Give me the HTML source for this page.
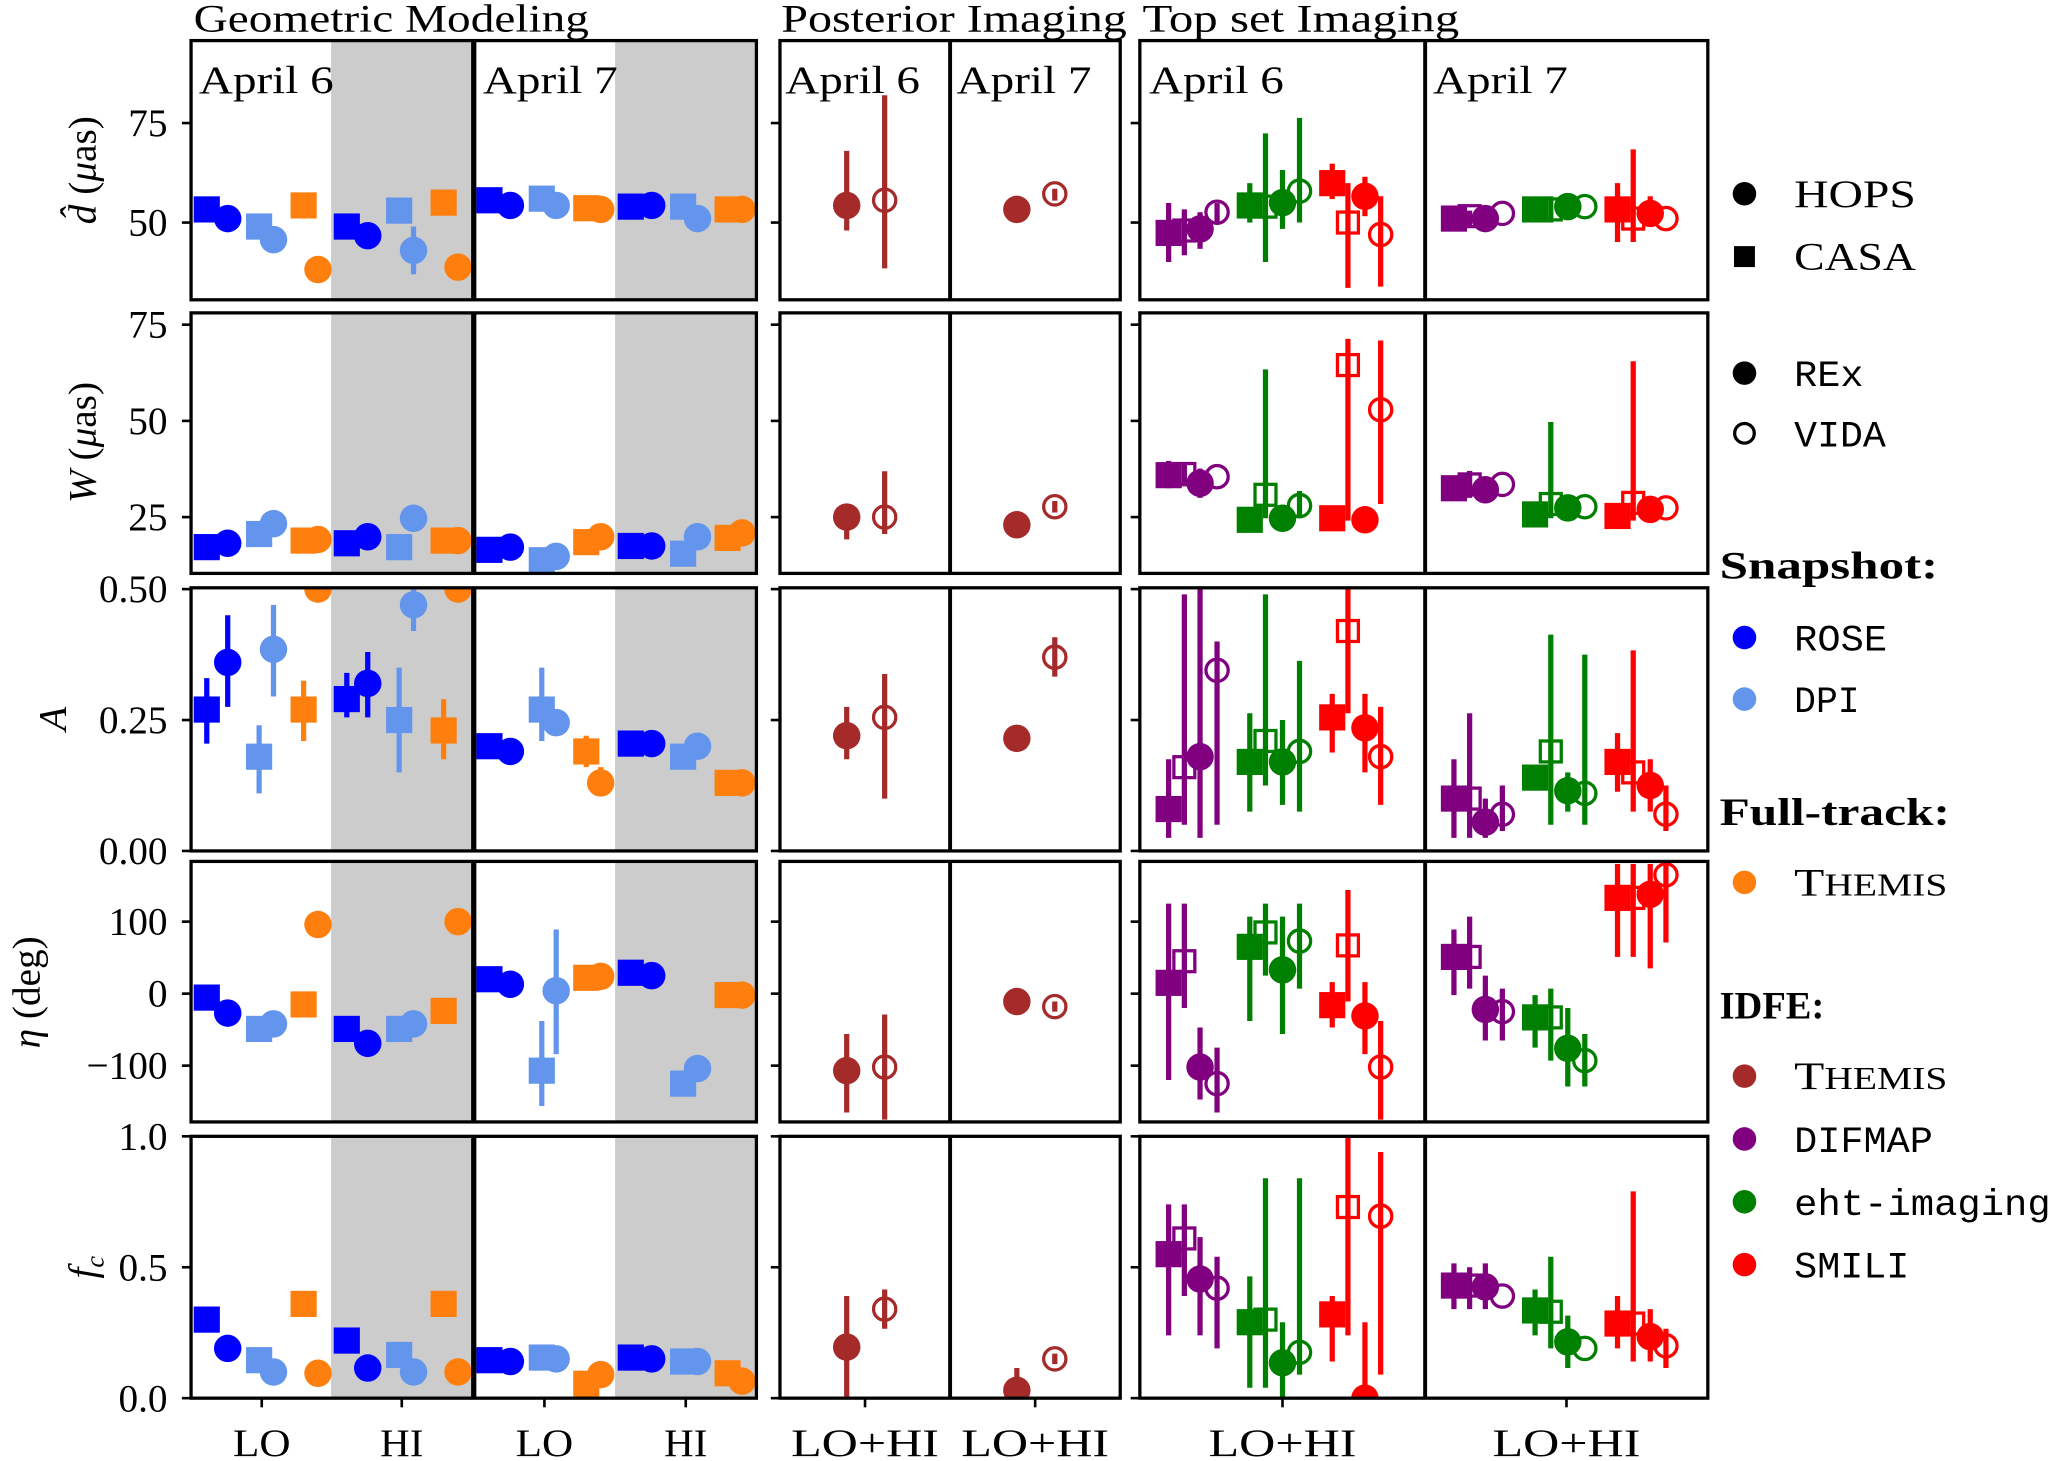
<!DOCTYPE html>
<html><head><meta charset="utf-8"><style>
html,body{margin:0;padding:0;background:#fff;}
svg{display:block;}
text{font-family:"Liberation Serif","DejaVu Serif",serif;fill:#000;}
.mono{font-family:"Liberation Mono","DejaVu Sans Mono",monospace;}
</style></head><body>
<svg id="chart" width="2052" height="1461" viewBox="0 0 1568 1116" preserveAspectRatio="none" xmlns="http://www.w3.org/2000/svg">
<g id="bg"></g><g id="marks"></g><g id="frames"></g><g id="labels"></g><g id="legend"></g>
</svg>
<script>
// ===== DATA (value or [value, errLow, errHigh]) =====
const geo_d = [[53.3,51,49,45.7,54.3,38.2],[49,46.7,53,[43,37,49],55,38.8],[55.6,54.3,56,54.3,53.6,53.3],[54,54.3,54,51,53.3,53.3]];
const geo_W = [[17.2,18.2,20.6,23.3,18.9,19.2],[18.2,19.9,17.2,24.7,18.9,18.9],[16.5,17.2,13.8,14.8,18.5,19.9],[17.5,17.5,15.5,19.9,19.6,20.9]];
const geo_A = [[[0.27,0.205,0.33],[0.36,0.275,0.45],[0.18,0.11,0.24],[0.385,0.295,0.47],[0.27,0.21,0.325],0.5],[[0.29,0.255,0.34],[0.32,0.255,0.38],[0.25,0.15,0.35],[0.47,0.42,0.5],[0.23,0.175,0.29],0.5],[0.2,0.19,[0.27,0.21,0.35],0.245,[0.19,0.16,0.22],[0.13,0.107,0.16]],[0.205,0.205,0.18,0.2,0.13,0.13]];
const geo_eta = [[-5.5,-27,-49,-42,-15,96],[-49,-69,-49,-42,-24,100],[20,13,[-107,-156,-38],[4,-84,89],22,24],[29,25,-125,-104,-2,-2]];
const geo_fc = [[0.3,0.19,0.145,0.1,0.36,0.095],[0.22,0.115,0.165,0.1,0.36,0.1],[0.145,0.14,0.155,0.15,0.055,0.09],[0.155,0.15,0.14,0.14,0.095,0.065]];
const post_d = [[[54.3,48,68],[55.6,38.5,82]],[[53.3,52,54.5],[57.2,55.5,58.5]]];
const post_W = [[[25,19.2,28.4],[25,20.6,36.9]],[[23,21.5,24.5],[27.7,26.2,29.2]]];
const post_A = [[[0.22,0.175,0.275],[0.255,0.1,0.338]],[[0.215,0.2,0.23],[0.37,0.333,0.408]]];
const post_eta = [[[-107,-165,-56],[-102,-175,-29]],[[-11,-16,-6],[-18,-25,-11]]];
const post_fc = [[[0.195,0,0.39],[0.34,0.265,0.415]],[[0.03,0,0.115],[0.15,0.13,0.17]]];
const top_d = [[[47.4,40.1,54.9],[48,41.8,53.3],[48.4,43.4,52.6],[52.6,50,54.9],[54.3,50,59.9],[54,40.1,72.4],[55,48.4,63.2],[57.9,50,76.3],[59.9,55.9,64.8],[50,33.6,59.9],[56.6,51.6,61.5],[47,33.9,56.6]],
 [[51,48.4,53.3],[51.6,49,53],51,52.3,53.3,[53.3,50,56.6],54,54,[53.3,45.1,59.9],[51,45.1,68.4],[52.3,49.3,56.6],51]];
const top_W = [[[35.9,32.5,39.6],[36.2,33,39],[33.8,30,37.6],35.5,24.3,[30.8,24.7,63.4],24.7,[28,24.7,31.8],24.7,[64.5,24.1,71.3],24.3,[52.9,28.4,70.9]],
 [32.5,[33.5,30,37],32.1,33.5,25.7,[28.4,24.7,49.7],27.4,27.7,25.3,[28.7,24.1,65.5],27,27.4]];
const top_A = [[[0.08,0.025,0.175],[0.16,0.05,0.49],[0.18,0.025,0.5],[0.345,0.05,0.4],[0.17,0.075,0.263],[0.21,0.125,0.49],[0.17,0.088,0.25],[0.19,0.075,0.363],[0.255,0.188,0.3],[0.42,0.263,0.5],[0.235,0.15,0.3],[0.18,0.088,0.275]],
 [[0.1,0.025,0.175],[0.1,0.025,0.263],[0.055,0.025,0.1],[0.07,0.038,0.125],0.14,[0.19,0.05,0.413],[0.115,0.075,0.15],[0.11,0.05,0.375],[0.17,0.113,0.225],[0.15,0.075,0.383],[0.125,0.075,0.175],[0.07,0.038,0.125]]];
const top_eta = [[[15,-120,125],[45,-20,125],[-102,-147,-47],[-125,-165,-75],[65,-38,107],[85,25,125],[33,-56,107],[73,7,125],[-16,-47,16],[67,-11,144],[-31,-84,16],[-102,-175,-38]],
 [[51,-2,89],[51,7,107],[-22,-65,25],[-25,-65,7],[-33,-75,-2],[-33,-93,7],[-76,-129,-20],[-93,-129,-56],[133,51,180],[133,51,180],[138,35,180],[165,71,183]]];
const top_fc = [[[0.55,0.24,0.74],[0.61,0.39,0.74],[0.455,0.24,0.615],[0.42,0.19,0.54],[0.29,0.04,0.465],[0.3,0.04,0.84],[0.135,0,0.29],[0.175,0.09,0.84],[0.32,0.14,0.39],[0.73,0.24,1.0],[0,0,0.29],[0.695,0.09,0.94]],
 [[0.43,0.34,0.515],[0.43,0.34,0.5],[0.425,0.34,0.515],0.39,[0.335,0.24,0.415],[0.33,0.19,0.54],[0.215,0.115,0.315],0.19,[0.285,0.19,0.39],[0.285,0.14,0.79],[0.235,0.14,0.34],[0.2,0.115,0.265]]];
const tickVals = [[50,75],[25,50,75],[0,0.25,0.5],[-100,0,100],[0,0.5,1.0]];
const tickLabels = [["50","75"],["25","50","75"],["0.00","0.25","0.50"],["\u2212100","0","100"],["0.0","0.5","1.0"]];

// ===== LAYOUT =====
const NS="http://www.w3.org/2000/svg";
const rowsPx=[[31,229],[239,438],[449,650],[658,857],[868,1068]];
const cal=[[50,170,75,94],[25,395,75,248],[0,650,0.5,450],[-100,814,100,704],[0,1068,1,868]];
function yAt(r,v){const c=cal[r];return c[1]+(v-c[0])*(c[3]-c[1])/(c[2]-c[0]);}
const sections=[[146,578],[596,856],[871,1305]];
const C={rose:'#0000ff',dpi:'#6495ed',th:'#ff7f0e',br:'#a52a2a',pu:'#800080',gr:'#008000',rd:'#ff0000'};
const rowNames=['d-hat','width','asymmetry','eta','fc'];
const geoData=[geo_d,geo_W,geo_A,geo_eta,geo_fc], postData=[post_d,post_W,post_A,post_eta,post_fc], topData=[top_d,top_W,top_A,top_eta,top_fc];
const bg=document.getElementById('bg'),marks=document.getElementById('marks'),frames=document.getElementById('frames'),labels=document.getElementById('labels');
function el(tag,attrs,parent){const e=document.createElementNS(NS,tag);for(const k in attrs)e.setAttribute(k,attrs[k]);parent.appendChild(e);return e;}
const defs=el('defs',{},document.getElementById('chart'));
function clipId(r,s){return 'c'+r+'_'+s;}
rowsPx.forEach((rp,r)=>sections.forEach((sx,s)=>{const cp=el('clipPath',{id:clipId(r,s)},defs);el('rect',{x:sx[0],y:rp[0],width:sx[1]-sx[0],height:rp[1]-rp[0]},cp);}));

function drawPoint(g,x,r,d,shape,fill,color,name){
  const v=Array.isArray(d)?d[0]:d;const y=yAt(r,v);
  if(Array.isArray(d)){const l=el('line',{x1:x,x2:x,y1:yAt(r,d[1]),y2:yAt(r,d[2]),stroke:color,'stroke-width':4},g);
    
    }
  let m;
  if(shape==='s'){const s=fill?20:16;m=el('rect',{x:x-s/2,y:y-s/2,width:s,height:s,fill:fill?color:'none',stroke:color,'stroke-width':fill?0:2.5},g);}
  else{m=el('circle',{cx:x,cy:y,r:fill?10.5:8.5,fill:fill?color:'none',stroke:color,'stroke-width':fill?0:2.5},g);}
  
  
}
rowsPx.forEach(rp=>{[[253,362],[470,578]].forEach(b=>{const e=el('rect',{x:b[0],y:rp[0],width:b[1]-b[0],height:rp[1]-rp[0],fill:'#cccccc'},bg);
  
  });});

const geoLefts=[146,253,362,470], geoOff=[12,28,52,63,86,97];
const geoStyle=[['s',1,C.rose,'rose-casa'],['c',1,C.rose,'rose-hops'],['s',1,C.dpi,'dpi-casa'],['c',1,C.dpi,'dpi-hops'],['s',1,C.th,'themis-casa'],['c',1,C.th,'themis-hops']];
const topLefts=[871,1089], topOff=[22,34,46,59,84,96,109,122,147,159,172,184];
const topCols=[C.pu,C.pu,C.pu,C.pu,C.gr,C.gr,C.gr,C.gr,C.rd,C.rd,C.rd,C.rd];
const topShape=[['s',1],['s',0],['c',1],['c',0]];
const topNm=['difmap','difmap','difmap','difmap','eht-imaging','eht-imaging','eht-imaging','eht-imaging','smili','smili','smili','smili'];
for(let r=0;r<5;r++){
  const g0=el('g',{'clip-path':'url(#'+clipId(r,0)+')'},marks);
  geoData[r].forEach((grp,gi)=>grp.forEach((d,i)=>{const st=geoStyle[i];drawPoint(g0,geoLefts[gi]+geoOff[i],r,d,st[0],st[1],st[2],rowNames[r]+'-'+st[3]);}));
  const g1=el('g',{'clip-path':'url(#'+clipId(r,1)+')'},marks);
  postData[r].forEach((grp,gi)=>grp.forEach((d,i)=>{drawPoint(g1,[647,777][gi]+i*29,r,d,'c',i===0,C.br,rowNames[r]+'-posterior-'+(i?'vida':'rex'));}));
  const g2=el('g',{'clip-path':'url(#'+clipId(r,2)+')'},marks);
  topData[r].forEach((grp,gi)=>grp.forEach((d,i)=>{const sh=topShape[i%4];drawPoint(g2,topLefts[gi]+topOff[i],r,d,sh[0],sh[1],topCols[i],rowNames[r]+'-'+topNm[i]);}));
}
rowsPx.forEach((rp,r)=>{
  sections.forEach((sx,s)=>{const f=el('rect',{x:sx[0],y:rp[0],width:sx[1]-sx[0],height:rp[1]-rp[0],fill:'none',stroke:'#000','stroke-width':2.5},frames);
    
    
    tickVals[r].forEach(v=>el('line',{x1:sx[0]-7,x2:sx[0],y1:yAt(r,v),y2:yAt(r,v),stroke:'#000','stroke-width':2},frames));});
  [362,726,1089].forEach(x=>el('line',{x1:x,x2:x,y1:rp[0],y2:rp[1],stroke:'#000','stroke-width':x===362?4:3},frames));
  tickVals[r].forEach((v,i)=>{const t=el('text',{x:128,y:yAt(r,v)+10,'text-anchor':'end','font-size':30},labels);t.textContent=tickLabels[r][i];
    
    });
});
const xt=[[200,'LO',44],[307,'HI',33],[416,'LO',44],[524,'HI',33],[661,'LO+HI',113],[791,'LO+HI',113],[980,'LO+HI',113],[1197,'LO+HI',113]];
xt.forEach(p=>{el('line',{x1:p[0],x2:p[0],y1:1068,y2:1075,stroke:'#000','stroke-width':2},frames);
  const t=el('text',{x:p[0],y:1112,'text-anchor':'middle','font-size':30,textLength:p[2],lengthAdjust:'spacingAndGlyphs'},labels);t.textContent=p[1];
  
  });
</script>
<script>
(function(){
const NS="http://www.w3.org/2000/svg";const L=document.getElementById('labels');
function tx(x,y,s,name,extra){extra=extra||{};const t=document.createElementNS(NS,'text');t.setAttribute('x',x);t.setAttribute('y',y);t.setAttribute('font-size',extra.fs||30);
 if(extra.tr)t.setAttribute('transform',extra.tr);if(extra.anchor)t.setAttribute('text-anchor',extra.anchor);
 if(extra.cls)t.setAttribute('class',extra.cls);if(extra.fw)t.setAttribute('font-weight',extra.fw);
 if(extra.len){t.setAttribute('textLength',extra.len);t.setAttribute('lengthAdjust','spacingAndGlyphs');}
 t.innerHTML=s;L.appendChild(t);return t;}
tx(148,24,'Geometric Modeling','title-geometric-modeling',{len:302});
tx(597,24,'Posterior Imaging','title-posterior-imaging',{len:264});
tx(873,24,'Top set Imaging','title-top-set-imaging',{len:242});
[[152,'April 6'],[369,'April 7'],[600,'April 6'],[731,'April 7'],[878,'April 6'],[1095,'April 7']].forEach(p=>tx(p[0],71,p[1],'panel-date-label',{len:103}));
tx(0,0,'<tspan font-style="italic">d̂</tspan> (<tspan font-style="italic">μ</tspan>as)','y-axis-title-d',{tr:'translate(73,130) rotate(-90)',anchor:'middle'});
tx(0,0,'<tspan font-style="italic">W</tspan> (<tspan font-style="italic">μ</tspan>as)','y-axis-title-w',{tr:'translate(73,338) rotate(-90)',anchor:'middle'});
tx(0,0,'<tspan font-style="italic">A</tspan>','y-axis-title-a',{tr:'translate(50,549) rotate(-90)',anchor:'middle'});
tx(0,0,'<tspan font-style="italic">η</tspan> (deg)','y-axis-title-eta',{tr:'translate(30,758) rotate(-90)',anchor:'middle'});
tx(0,0,'<tspan font-style="italic">f</tspan><tspan font-style="italic" font-size="20" dy="6">c</tspan>','y-axis-title-fc',{tr:'translate(73,968) rotate(-90)',anchor:'middle'});
const G=document.getElementById('legend');
function mk(shape,fill,color,y,name){let e;if(shape==='s'){e=document.createElementNS(NS,'rect');e.setAttribute('x',1325);e.setAttribute('y',y-8);e.setAttribute('width',16);e.setAttribute('height',16);e.setAttribute('fill',color);}
 else{e=document.createElementNS(NS,'circle');e.setAttribute('cx',1333);e.setAttribute('cy',y);e.setAttribute('r',fill?9:7.5);e.setAttribute('fill',fill?color:'none');e.setAttribute('stroke',color);e.setAttribute('stroke-width',fill?0:2.5);}
 G.appendChild(e);}
const items=[['c',1,'#000',148,'HOPS','',93],['s',1,'#000',196,'CASA','',93],['c',1,'#000',285,'REx','mono',53],['c',0,'#000',331,'VIDA','mono',70],
 ['c',1,'#0000ff',487,'ROSE','mono',71],['c',1,'#6495ed',534,'DPI','mono',50],['c',1,'#ff7f0e',674,'T<tspan font-size="24">HEMIS</tspan>','',117],
 ['c',1,'#a52a2a',822,'T<tspan font-size="24">HEMIS</tspan>','',117],['c',1,'#800080',870,'DIFMAP','mono',106],['c',1,'#008000',918,'eht-imaging','mono',196],['c',1,'#ff0000',966,'SMILI','mono',88]];
items.forEach(it=>{mk(it[0],it[1],it[2],it[3],'legend-marker');tx(1371,it[3]+10,it[4],'legend-entry',{cls:it[5],fs:it[5]?28:30,len:it[6]});});
tx(1314,442,'Snapshot:','legend-heading-snapshot',{fw:'bold',len:167});
tx(1314,630,'Full-track:','legend-heading-full-track',{fw:'bold',len:176});
tx(1314,778,'IDFE:','legend-heading-idfe',{fw:'bold',len:80});
})();
</script>
</body></html>
